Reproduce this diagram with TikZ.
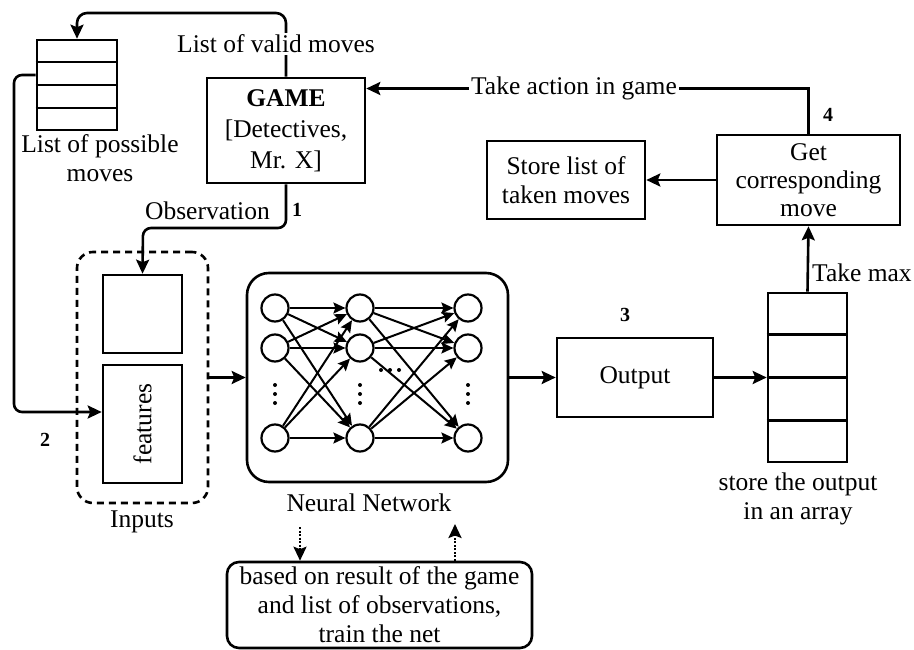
\documentclass[tikz,border=0pt]{standalone}
\usepackage{fontspec}
\setmainfont{Liberation Serif}
\usetikzlibrary{arrows.meta,calc}
\begin{document}
\begin{tikzpicture}[x=1pt,y=-1pt,
  every node/.style={font=\fontsize{25.5}{29}\selectfont},
  blk/.style={draw,line width=2.6pt,align=center,inner sep=0pt},
  conn/.style={line width=2.6pt,-{Stealth[length=14pt,width=13pt,inset=2.5pt]}},
  ln/.style={line width=2.6pt},
  num/.style={font=\fontsize{20}{22}\selectfont\bfseries},
  lbl/.style={align=center,inner sep=2pt},
  neuron/.style={circle,draw,line width=2.2pt,minimum size=27pt,inner sep=0pt},
  nnedge/.style={line width=2pt,-{Stealth[length=12pt,width=11pt,inset=2pt]}},
  nndot/.style={circle,fill,inner sep=0pt,minimum size=4pt},
  dotarrow/.style={line width=2.4pt,dash pattern=on 2pt off 1.5pt,-{Stealth[length=14pt,width=13pt,inset=2.5pt]}}
]
\useasboundingbox (0,0) rectangle (914,650);

% list of possible moves
\node[blk,minimum width=80pt,minimum height=90pt] (moves) at (77,85) {};
\foreach \f in {0.25,0.5,0.75}
  \draw[ln] ($(moves.north west)!\f!(moves.south west)$) -- ($(moves.north east)!\f!(moves.south east)$);
\node[lbl] (movesl) at (100,158) {List of possible\\moves};

% game
\node[blk,minimum width=158pt,minimum height=105pt,font=\fontsize{25.5}{31}\selectfont] (game) at (286,130.5) {\textbf{GAME}\\{}[Detectives,\\Mr. X]};

% store / get
\node[blk,minimum width=158pt,minimum height=78pt] (store) at (566,180) {Store list of\\taken moves};
\node[blk,minimum width=183pt,minimum height=90pt,font=\fontsize{25.5}{28}\selectfont] (get) at (808.5,180) {Get\\corresponding\\move};

% inputs
\node[draw,line width=2.6pt,dash pattern=on 7pt off 5pt,rounded corners=16pt,minimum width=131pt,minimum height=251pt] (inputs) at (142.5,377.5) {};
\node[blk,minimum width=79pt,minimum height=78pt] (inA) at (142.5,314) {};
\node[blk,minimum width=79pt,minimum height=118pt] (feat) at (142.5,424) {};
\node[rotate=90] (featl) at (feat.center) {features};
\node[lbl] (inputsl) at (142,522) {Inputs};
\node[num] (n2lbl) at (45,440) {2};

% neural network
\node[blk,rounded corners=22pt,minimum width=261pt,minimum height=209pt] (nn) at (377.5,377.5) {};
\node[lbl] (nnl) at (369,503) {Neural Network};
\foreach \c/\x in {1/275,2/360,3/468}
  \foreach \r/\y in {1/308,2/348,3/438}
    \node[neuron] (n\c\r) at (\x,\y) {};
\foreach \i in {1,2,3}
  \foreach \j in {1,2,3} {
    \draw[nnedge] (n1\i) -- (n2\j);
    \draw[nnedge] (n2\i) -- (n3\j);
  }
\foreach \x in {275,360,468}
  \foreach \y in {385,394,403}
    \node[nndot] at (\x,\y) {};
\foreach \x in {381,390,399}
  \node[nndot] at (\x,370) {};

% output and array
\node[blk,minimum width=156pt,minimum height=79pt] (out) at (635,377.5) {Output};
\node[num] (n3lbl) at (625,315) {3};
\node[blk,minimum width=79pt,minimum height=169pt] (arr) at (807.5,377.5) {};
\foreach \f in {0.25,0.5,0.75}
  \draw[ln] ($(arr.north west)!\f!(arr.south west)$) -- ($(arr.north east)!\f!(arr.south east)$);
\node[lbl] (arrl) at (798,499) {store the output\\in an array};
\node[lbl,anchor=west] (maxl) at (810,273) {Take max};
\node[num] (n4lbl) at (828,115) {4};

% training box
\node[blk,rounded corners=12pt,minimum width=305pt,minimum height=86pt] (train) at (379.5,605) {based on result of the game\\and list of observations,\\train the net};

% connectors
\coordinate (c1) at (286,13);
\coordinate (c2) at (77,13);
\draw[conn,rounded corners=10pt] (game.north) -- (c1) -- (c2) -- (moves.north);
\node[lbl,fill=white] (validl) at (276,44) {List of valid moves};

\coordinate (oc) at (143,228);
\draw[conn,rounded corners=8pt] (game.south) |- (oc) -- (inA.north);
\node[lbl,anchor=east] (obsl) at (272,211) {Observation};
\node[num] (n1lbl) at (297,210) {1};

\coordinate (lc1) at (14,75);
\coordinate (lc2) at (14,412);
\draw[conn,rounded corners=8pt] ([yshift=10pt]moves.west) -- (lc1) -- (lc2) -- ([yshift=12pt]feat.west);

\draw[conn] (inputs.east) -- (nn.west);
\draw[conn] (nn.east) -- (out.west);
\draw[conn] (out.east) -- (arr.west);
\draw[conn] (arr.north) -- (get.south);
\draw[conn] (get.west) -- (store.east);
\draw[conn] (get.north) |- ([yshift=42pt]game.east);
\node[lbl,fill=white] (takel) at (574,88) {Take action in game};

\coordinate (d1) at (300,527);
\coordinate (d2) at (455,524);
\draw[dotarrow] (d1) -- (d1 |- train.north);
\draw[dotarrow] (d2 |- train.north) -- (d2);
\end{tikzpicture}
\end{document}
